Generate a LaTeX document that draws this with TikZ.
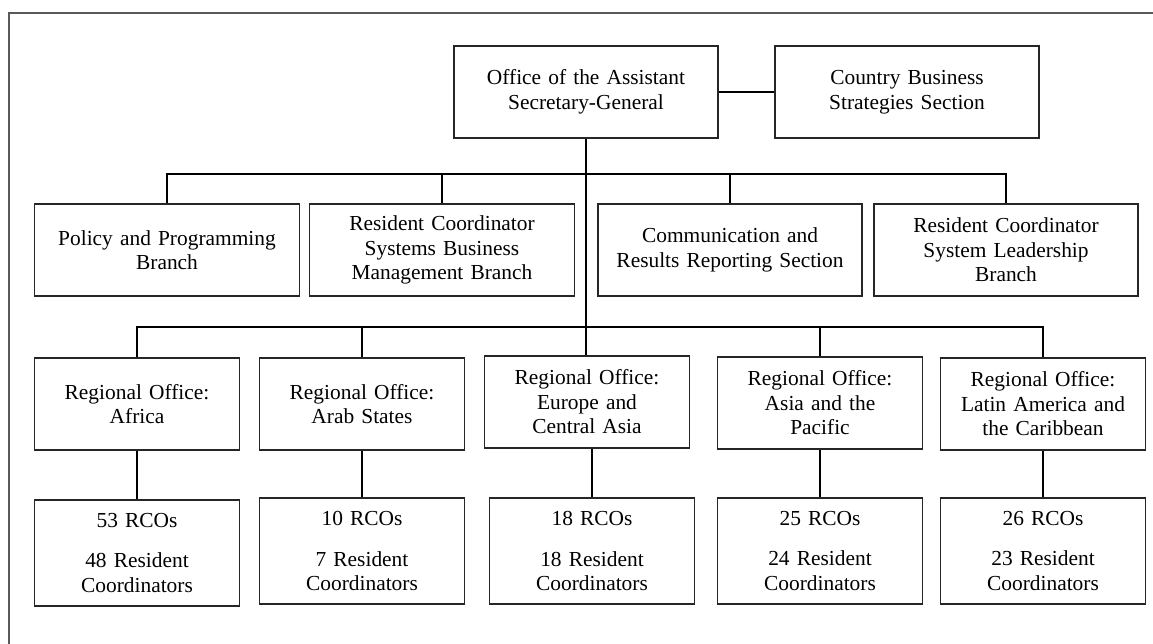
\documentclass[tikz,border=0pt]{standalone}
\usepackage{fontspec}
\setmainfont{Liberation Serif}
\begin{document}
\begin{tikzpicture}[x=1pt,y=-1pt,
  box/.style={draw=black!85,line width=1.5pt,inner sep=0pt,align=center,
    font=\fontsize{21.4}{24.5}\selectfont},
  wide/.style={box,minimum width=264pt,minimum height=92pt,text width=250pt},
  reg/.style={box,minimum width=205pt,minimum height=92pt,text width=195pt},
  rco/.style={box,minimum width=205pt,minimum height=106pt,text width=195pt},
  link/.style={draw=black,line width=2pt},
  frame/.style={draw=black!65,line width=2pt}]
\useasboundingbox (0,0) rectangle (1153,644);
\draw[frame] (9,644) -- (9,13) -- (1153,13);

\node[wide] (oasg) at (586,92) {Office of the Assistant\\Secretary-General};
\node[wide] (cbs) at (907,92) {Country Business\\Strategies Section};

\node[wide,minimum width=265pt] (pol) at (167,250) {Policy and Programming\\Branch};
\node[wide,minimum width=265pt] (rcsb) at (442,250) {Resident Coordinator\\Systems Business\\Management Branch};
\node[wide] (com) at (730,250) {Communication and\\Results Reporting Section};
\node[wide] (rcsl) at (1006,250) {Resident Coordinator\\System Leadership\\Branch};

\node[reg] (afr) at (137,404) {Regional Office:\\Africa};
\node[reg] (arab) at (362,404) {Regional Office:\\Arab States};
\node[reg] (eur) at (587,402) {Regional Office:\\Europe and\\Central Asia};
\node[reg] (asia) at (820,403) {Regional Office:\\Asia and the\\Pacific};
\node[reg] (lat) at (1043,404) {Regional Office:\\Latin America and\\the Caribbean};

\node[rco] (afrb) at (137,553) {53 RCOs\\[16pt]48 Resident\\Coordinators};
\node[rco] (arabb) at (362,551) {10 RCOs\\[16pt]7 Resident\\Coordinators};
\node[rco] (eurb) at (592,551) {18 RCOs\\[16pt]18 Resident\\Coordinators};
\node[rco] (asiab) at (820,551) {25 RCOs\\[16pt]24 Resident\\Coordinators};
\node[rco] (latb) at (1043,551) {26 RCOs\\[16pt]23 Resident\\Coordinators};

\coordinate (b1) at (586,174);
\coordinate (b2) at (586,327);

\draw[link] (oasg.east) -- (cbs.west);
\draw[link] (oasg.south) -- (oasg.south |- eur.north);
\draw[link] (pol.north) |- (b1);
\draw[link] (rcsl.north) |- (b1);
\draw[link] (rcsb.north) -- (rcsb.north |- b1);
\draw[link] (com.north) -- (com.north |- b1);

\draw[link] (afr.north) |- (b2);
\draw[link] (lat.north) |- (b2);
\draw[link] (arab.north) -- (arab.north |- b2);
\draw[link] (asia.north) -- (asia.north |- b2);

\draw[link] (afr.south) -- (afrb.north);
\draw[link] (arab.south) -- (arabb.north);
\draw[link] (eurb.north |- eur.south) -- (eurb.north);
\draw[link] (asia.south) -- (asiab.north);
\draw[link] (lat.south) -- (latb.north);
\end{tikzpicture}
\end{document}
